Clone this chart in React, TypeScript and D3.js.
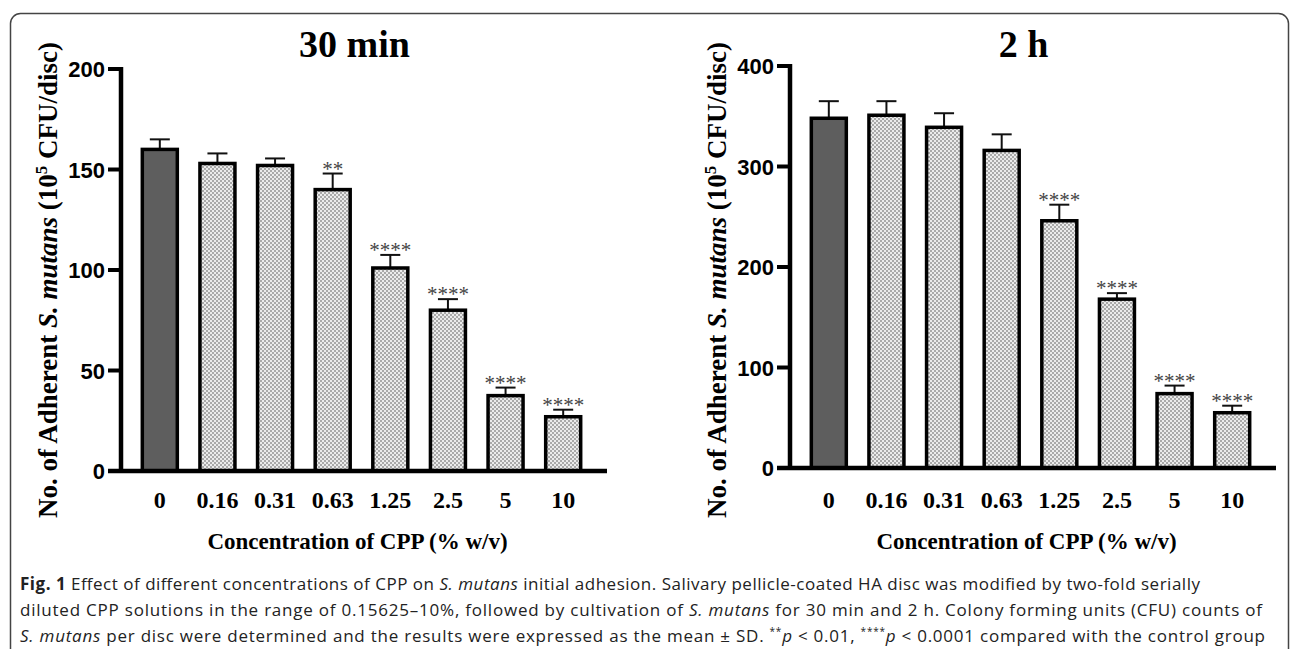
import React from 'react';
import * as d3 from 'd3';

// CPP concentration (% w/v)
const concentrations = ['0', '0.16', '0.31', '0.63', '1.25', '2.5', '5', '10'];

// 30 min: mean and upper SD end (10^5 CFU/disc)
const mean30 = [160, 153, 152, 140, 101, 80, 37.5, 27];
const upper30 = [165, 158, 155.5, 148, 107.5, 85.5, 41.5, 30.5];
const sig30 = ['', '', '', '**', '****', '****', '****', '****'];

// 2 h
const mean2h = [348, 351, 339, 316, 246, 168, 74, 55];
const upper2h = [365, 365, 353, 332, 262, 174, 82, 62];
const sig2h = ['', '', '', '', '****', '****', '****', '****'];

const ticks30 = [0, 50, 100, 150, 200];
const ticks2h = [0, 100, 200, 300, 400];

const serif = '"Liberation Serif", "Times New Roman", serif';
const sans = '"Liberation Sans", Arial, sans-serif';

type PanelProps = {
  title: string;
  mean: number[];
  upper: number[];
  sig: string[];
  ticks: number[];
  axisX: number;
  y0: number;
  yTop: number;
};

const Panel = ({ title, mean, upper, sig, ticks, axisX, y0, yTop }: PanelProps) => {
  const yMax = ticks[ticks.length - 1];
  const y = d3.scaleLinear().domain([0, yMax]).range([y0, yTop]);
  const x = d3
    .scaleBand()
    .domain(concentrations)
    .range([axisX + 10, axisX + 471])
    .padding(0);
  const barW = 35;
  const axisEnd = axisX + 486;
  const midX = (axisX - 13 + axisEnd) / 2;

  return (
    <g>
      <text x={midX - 3} y={57} textAnchor="middle" fontFamily={serif} fontWeight="bold" fontSize={38}>
        {title}
      </text>

      {/* bars */}
      {concentrations.map((c, i) => {
        const cx = x(c)! + x.bandwidth() / 2;
        return (
          <g key={c}>
            <line x1={cx} x2={cx} y1={y(mean[i])} y2={y(upper[i])} stroke="#111" strokeWidth={2} />
            <line x1={cx - 10} x2={cx + 10} y1={y(upper[i])} y2={y(upper[i])} stroke="#111" strokeWidth={2} />
            <rect
              x={cx - barW / 2}
              y={y(mean[i])}
              width={barW}
              height={y0 - y(mean[i])}
              fill={i === 0 ? '#5e5e5e' : 'url(#checker)'}
              stroke="#000"
              strokeWidth={3.5}
            />
            {sig[i] && (
              <text x={cx} y={y(upper[i]) + 2} textAnchor="middle" fontFamily={serif} fontSize={21} fill="#444">
                {sig[i]}
              </text>
            )}
            <text x={cx} y={508} textAnchor="middle" fontFamily={serif} fontWeight="bold" fontSize={24}>
              {c}
            </text>
          </g>
        );
      })}

      {/* y axis */}
      <line x1={axisX} x2={axisX} y1={yTop - 2} y2={y0 + 2} stroke="#000" strokeWidth={4.5} />
      {ticks.map((t) => (
        <g key={t}>
          <line x1={axisX - 13} x2={axisX} y1={y(t)} y2={y(t)} stroke="#000" strokeWidth={4} />
          <text x={axisX - 16} y={y(t) + 8} textAnchor="end" fontFamily={sans} fontWeight="bold" fontSize={22}>
            {t}
          </text>
        </g>
      ))}

      {/* x axis */}
      <line x1={axisX - 13} x2={axisEnd} y1={y0} y2={y0} stroke="#000" strokeWidth={4.5} />

      <text x={midX} y={549} textAnchor="middle" fontFamily={serif} fontWeight="bold" fontSize={23}>
        Concentration of CPP (% w/v)
      </text>

      <text
        transform={`translate(${axisX - 64},280) rotate(-90)`}
        textAnchor="middle"
        fontFamily={serif}
        fontWeight="bold"
        fontSize={27}
      >
        No. of Adherent <tspan fontStyle="italic">S. mutans</tspan> (10
        <tspan dy={-10} fontSize={17}>5</tspan>
        <tspan dy={10}> CFU/disc)</tspan>
      </text>
    </g>
  );
};

const App = () => {
  const capFont = '"Open Sans", "Noto Sans", sans-serif';
  return (
    <div style={{ position: 'absolute', left: 0, top: 0 }}>
      <svg width={1290} height={649} style={{ display: 'block', background: '#fff' }}>
        <defs>
          <pattern id="checker" width={4} height={4} patternUnits="userSpaceOnUse">
            <rect width={4} height={4} fill="#ebebeb" />
            <rect width={2} height={2} fill="#a9a9a9" />
            <rect x={2} y={2} width={2} height={2} fill="#a9a9a9" />
          </pattern>
        </defs>

        <rect x={10.5} y={13.5} width={1278} height={700} rx={10} fill="none" stroke="#444" strokeWidth={1.5} />

        <Panel title="30 min" mean={mean30} upper={upper30} sig={sig30} ticks={ticks30} axisX={121} y0={471} yTop={69} />
        <Panel title="2 h" mean={mean2h} upper={upper2h} sig={sig2h} ticks={ticks2h} axisX={790} y0={468} yTop={66} />

        <g fontFamily={capFont} fontSize={17} fill="#222">
          <text x={20} y={590} textLength={1180} lengthAdjust="spacing">
            <tspan fontWeight="bold">Fig. 1</tspan> Effect of different concentrations of CPP on{' '}
            <tspan fontStyle="italic">S. mutans</tspan> initial adhesion. Salivary pellicle-coated HA disc was modified by two-fold serially
          </text>
          <text x={20} y={616} textLength={1242} lengthAdjust="spacing">
            diluted CPP solutions in the range of 0.15625–10%, followed by cultivation of{' '}
            <tspan fontStyle="italic">S. mutans</tspan> for 30 min and 2 h. Colony forming units (CFU) counts of
          </text>
          <text x={20} y={642} textLength={1245} lengthAdjust="spacing">
            <tspan fontStyle="italic">S. mutans</tspan> per disc were determined and the results were expressed as the mean ± SD.{' '}
            <tspan dy={-7} fontSize={10}>**</tspan>
            <tspan dy={7} fontStyle="italic">p</tspan> &lt; 0.01,{' '}
            <tspan dy={-7} fontSize={10}>****</tspan>
            <tspan dy={7} fontStyle="italic">p</tspan> &lt; 0.0001 compared with the control group
          </text>
        </g>
      </svg>
    </div>
  );
};

export default App;
